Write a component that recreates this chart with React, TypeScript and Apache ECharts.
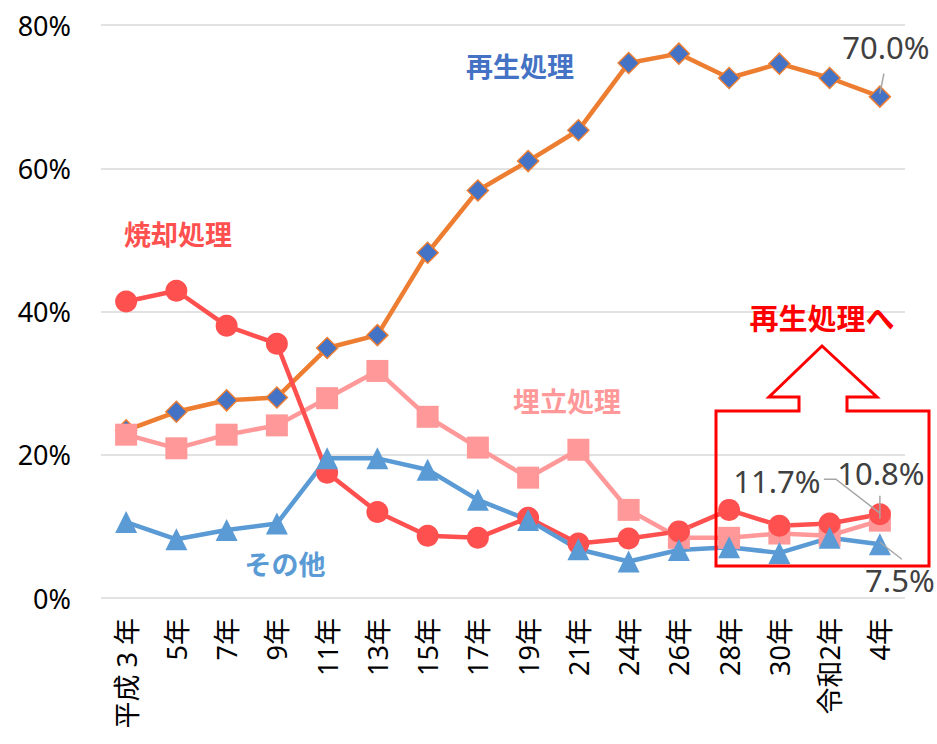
import React, { useEffect, useRef } from "react";
import * as echarts from "echarts";

const categories = ["平成 3 年", "5年", "7年", "9年", "11年", "13年", "15年", "17年", "19年", "21年", "24年", "26年", "28年", "30年", "令和2年", "4年"];
const recycle = [23.4, 26.0, 27.6, 28.0, 34.9, 36.7, 48.2, 56.9, 61.0, 65.3, 74.7, 76.0, 72.6, 74.6, 72.6, 70.0];
const landfill = [22.8, 20.9, 22.8, 24.1, 27.9, 31.7, 25.3, 21.0, 16.8, 20.7, 12.3, 8.4, 8.4, 9.0, 8.7, 10.8];
const incineration = [41.4, 42.9, 38.0, 35.5, 17.5, 12.0, 8.7, 8.4, 11.2, 7.6, 8.3, 9.3, 12.3, 10.1, 10.4, 11.7];
const other = [10.6, 8.2, 9.5, 10.4, 19.5, 19.5, 17.9, 13.7, 10.9, 6.8, 5.1, 6.7, 7.1, 6.3, 8.4, 7.5];
const yTicks = { min: 0, max: 80, interval: 20 };

const NUM_FONT = '"Noto Sans", "Noto Sans CJK JP", sans-serif';
const CJK_FONT = '"Noto Sans CJK JP", sans-serif';

function withLastLabel(values: number[], offset: [number, number]) {
  const last = values.length - 1;
  return values.map((v, i) =>
    i === last
      ? {
          value: v,
          label: {
            show: true,
            position: "inside",
            offset,
            formatter: (p: any) => Number(p.value).toFixed(1) + "%",
            color: "#404040",
            fontSize: 31,
            fontFamily: NUM_FONT,
          },
        }
      : v
  );
}

export default function App() {
  const ref = useRef<HTMLDivElement>(null);
  useEffect(() => {
    if (!ref.current) return;
    const chart = echarts.init(ref.current, undefined, { renderer: "svg" });
    const option: any = {
      animation: false,
      backgroundColor: "#ffffff",
      grid: { left: 101, right: 32, top: 25, bottom: 146 },
      xAxis: {
        type: "category",
        data: categories,
        boundaryGap: true,
        axisLine: { show: false },
        axisTick: { show: false },
        axisLabel: {
          rotate: 90,
          margin: 20,
          color: "#000000",
          fontSize: 27,
          fontFamily: NUM_FONT,
          interval: 0,
        },
      },
      yAxis: {
        type: "value",
        min: yTicks.min,
        max: yTicks.max,
        interval: yTicks.interval,
        axisLine: { show: false },
        axisTick: { show: false },
        splitLine: { lineStyle: { color: "#D9D9D9", width: 1.5 } },
        axisLabel: {
          formatter: "{value}%",
          margin: 30,
          color: "#000000",
          fontSize: 27,
          fontFamily: NUM_FONT,
        },
      },
      series: [
        {
          name: "再生処理",
          type: "line",
          data: withLastLabel(recycle, [6, -50]),
          lineStyle: { color: "#ED7D31", width: 4.5 },
          symbol: "diamond",
          symbolSize: 21,
          itemStyle: { color: "#4472C4", borderColor: "#ED7D31", borderWidth: 1.5 },
        },
        {
          name: "埋立処理",
          type: "line",
          data: withLastLabel(landfill, [1, -48]),
          lineStyle: { color: "#FF9999", width: 4.5 },
          symbol: "rect",
          symbolSize: 22,
          itemStyle: { color: "#FF9999" },
        },
        {
          name: "焼却処理",
          type: "line",
          data: withLastLabel(incineration, [-103, -33]),
          lineStyle: { color: "#FF5050", width: 4.5 },
          symbol: "circle",
          symbolSize: 22,
          itemStyle: { color: "#FF5050" },
        },
        {
          name: "その他",
          type: "line",
          data: withLastLabel(other, [20, 36]),
          lineStyle: { color: "#5B9BD5", width: 4.5 },
          symbol: "triangle",
          symbolSize: 22,
          itemStyle: { color: "#5B9BD5" },
        },
      ],
    };
    chart.setOption(option);

    const last = categories.length - 1;
    const px = (v: number) => chart.convertToPixel({ xAxisIndex: 0, yAxisIndex: 0 }, [last, v]) as number[];
    const pR = px(recycle[last]);
    const pI = px(incineration[last]);
    const pL = px(landfill[last]);
    const pO = px(other[last]);
    const leader = { stroke: "#A6A6A6", lineWidth: 1.5, fill: "none" };

    const nameText = (text: string, x: number, y: number, color: string, size: number) => ({
      type: "text",
      x,
      y,
      style: {
        text,
        fill: color,
        fontSize: size,
        fontWeight: "bold",
        fontFamily: CJK_FONT,
        textAlign: "center",
        textVerticalAlign: "middle",
      },
      z: 10,
    });

    chart.setOption({
      graphic: [
        { type: "polyline", shape: { points: [[pR[0], pR[1] - 3], [pR[0] + 4, pR[1] - 23]] }, style: leader, z: 5 },
        { type: "polyline", shape: { points: [[pI[0] - 56, pI[1] - 35], [pI[0] - 44, pI[1] - 35], [pI[0], pI[1] - 1]] }, style: leader, z: 5 },
        { type: "polyline", shape: { points: [[pL[0], pL[1] - 25], [pL[0], pL[1] - 2]] }, style: leader, z: 5 },
        { type: "polyline", shape: { points: [[pO[0], pO[1] - 2], [pO[0] + 22, pO[1] + 15]] }, style: leader, z: 5 },
        nameText("再生処理", 520, 65, "#4472C4", 27),
        nameText("焼却処理", 178, 233, "#FF5050", 27),
        nameText("埋立処理", 567, 400, "#FF9999", 27),
        nameText("その他", 285, 563, "#5B9BD5", 27),
        nameText("再生処理へ", 822, 317, "#FF0000", 29),
        {
          type: "polygon",
          shape: {
            points: [
              [716, 411], [799, 411], [799, 397], [769, 397], [822, 346], [877, 397],
              [847, 397], [847, 411], [929, 411], [929, 566], [716, 566],
            ],
          },
          style: { fill: "none", stroke: "#FF0000", lineWidth: 3 },
          z: 10,
        },
      ],
    });

    return () => chart.dispose();
  }, []);
  return (
    <div
      ref={ref}
      style={{ position: "absolute", left: 0, top: 0, width: 937, height: 744 }}
    />
  );
}
